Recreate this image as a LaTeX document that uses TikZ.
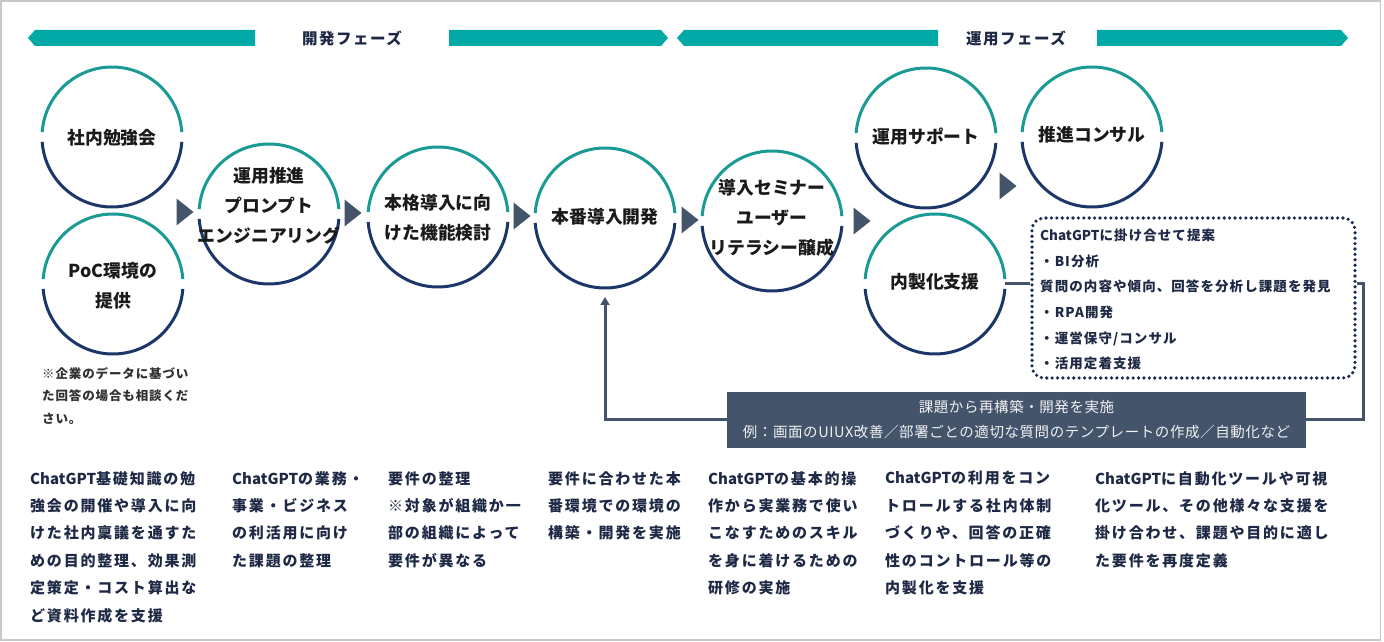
\documentclass[tikz,border=0pt]{standalone}
\usepackage{fontspec}
\setmainfont{Noto Sans CJK JP}
\usetikzlibrary{arrows.meta}
\definecolor{tealbar}{HTML}{00A9A5}
\definecolor{tealarc}{HTML}{1A9A94}
\definecolor{navyarc}{HTML}{1B3668}
\definecolor{slate}{HTML}{44546A}
\definecolor{txtnavy}{HTML}{1E2A45}
\definecolor{txtdark}{HTML}{1A1A1A}
\definecolor{framegray}{HTML}{C8C8C8}
\newcommand\myring[1]{%
  \draw[tealarc,line width=3pt] (#1.4) arc[start angle=4,end angle=176,radius=70pt];
  \draw[navyarc,line width=3pt] (#1.184) arc[start angle=184,end angle=356,radius=70pt];}
\newcommand\lat[1]{{\addfontfeature{LetterSpace=0}#1}}
\begin{document}
\begin{tikzpicture}[x=1pt,y=1pt,
  ring/.style={circle,minimum size=140pt,inner sep=0pt,outer sep=0pt},
  ctext/.style={align=center,inner sep=0pt,text=txtdark,
    font=\bfseries\fontsize{17.8}{30}\selectfont},
  btext/.style={align=left,anchor=north west,inner sep=0pt,text=txtnavy,
    font=\bfseries\fontsize{15}{27.4}\selectfont\addfontfeature{LetterSpace=12}},
  phase/.style={inner sep=0pt,text=txtnavy,
    font=\bfseries\fontsize{15.5}{18}\selectfont\addfontfeature{LetterSpace=10}},
  note/.style={align=left,anchor=north west,inner sep=0pt,text=txtdark!90,
    font=\bfseries\fontsize{12.5}{22.5}\selectfont\addfontfeature{LetterSpace=7}},
  dbox/.style={draw=navyarc!80!black,line width=3.6pt,dash pattern=on 0pt off 5.4pt,
    line cap=round,rounded corners=12pt,inner sep=0pt},
  dtext/.style={align=left,anchor=north west,inner sep=0pt,text=txtnavy,
    font=\bfseries\fontsize{13.5}{25.6}\selectfont\addfontfeature{LetterSpace=8}},
  fbox/.style={fill=slate,text=white!92!slate,align=center,inner sep=0pt,
    font=\fontsize{14.5}{25}\selectfont\addfontfeature{LetterSpace=4}},
  link/.style={draw=slate,line width=3pt},
  tri/.style={fill=slate}
]
\useasboundingbox (0,0) rectangle (1384,642);
\fill[white] (0,0) rectangle (1384,642);
\draw[framegray,line width=1.5pt] (1,2) rectangle (1380.5,641);

% phase banners
\fill[tealbar] (28,604) -- (35,612) -- (255,612) -- (255,596) -- (35,596) -- cycle;
\fill[tealbar] (449,612) -- (661,612) -- (668,604) -- (661,596) -- (449,596) -- cycle;
\fill[tealbar] (677,604) -- (684,612) -- (938,612) -- (938,596) -- (684,596) -- cycle;
\fill[tealbar] (1097,612) -- (1341,612) -- (1348,604) -- (1341,596) -- (1097,596) -- cycle;
\node[phase] (ph1) at (352,604) {開発フェーズ};
\node[phase] (ph2) at (1016,604) {運用フェーズ};

% circles
\node[ring] (c1) at (112,505) {};
\node[ring] (c2) at (113,358) {};
\node[ring] (c3) at (269,428) {};
\node[ring] (c4) at (438,425) {};
\node[ring] (c5) at (605,424) {};
\node[ring] (c6) at (772,421) {};
\node[ring] (c7) at (926,504) {};
\node[ring] (c8) at (935,358) {};
\node[ring] (c9) at (1092,505) {};
\myring{c1}\myring{c2}\myring{c3}\myring{c4}\myring{c5}
\myring{c6}\myring{c7}\myring{c8}\myring{c9}

\node[ctext] (t1) at (112,504) {社内勉強会};
\node[ctext] (t2) at (113,356) {PoC環境の\\提供};
\node[ctext] (t3) at (269,436) {運用推進\\プロンプト\\エンジニアリング};
\node[ctext] (t4) at (438,424) {本格導入に向\\けた機能検討};
\node[ctext] (t5) at (605,425) {本番導入開発};
\node[ctext] (t6) at (772,424) {導入セミナー\\ユーザー\\リテラシー醸成};
\node[ctext] (t7) at (926,505) {運用サポート};
\node[ctext] (t8) at (935,360) {内製化支援};
\node[ctext] (t9) at (1092,507) {推進コンサル};

% step triangles
\foreach \x/\y in {185/430,353/429,522/426,690/422,862/421,1008/456}
  \fill[tri] (\x-8.5,\y+13.5) -- (\x+8.5,\y) -- (\x-8.5,\y-13.5) -- cycle;

% note under PoC
\node[note] (n1) at (42,275) {※企業のデータに基づい\\た回答の場合も相談くだ\\さい。};

% dotted box
\node[dbox,minimum width=323pt,minimum height=160pt] (db) at (1193.5,344) {};
\node[dtext] (dt) at (1040,413) {\lat{ChatGPT}に掛け合せて提案\\・BI分析\\質問の内容や傾向、回答を分析し課題を発見\\・RPA開発\\・運営保守/コンサル\\・活用定着支援};

% connectors
\coordinate (turn) at (1363,222);
\draw[link] (c8.east) -- (c8.east -| db.west);
\draw[link,-{Triangle[width=9pt,length=8pt]},shorten >=9pt]
  (db.east |- c8.east) -| (turn) -| (c5.south);

% feedback box
\node[fbox,minimum width=579pt,minimum height=56pt] (fb) at (1016.5,222)
  {課題から再構築・開発を実施\\例：画面のUIUX改善／部署ごとの適切な質問のテンプレートの作成／自動化など};

% bottom descriptions
\node[btext] (d1) at (30,171) {\lat{ChatGPT}基礎知識の勉\\強会の開催や導入に向\\けた社内稟議を通すた\\めの目的整理、効果測\\定策定・コスト算出な\\ど資料作成を支援};
\node[btext] (d2) at (232,171) {\lat{ChatGPT}の業務・\\事業・ビジネス\\の利活用に向け\\た課題の整理};
\node[btext] (d3) at (388,171) {要件の整理\\※対象が組織か一\\部の組織によって\\要件が異なる};
\node[btext] (d4) at (548,171) {要件に合わせた本\\番環境での環境の\\構築・開発を実施};
\node[btext] (d5) at (708,171) {\lat{ChatGPT}の基本的操\\作から実業務で使い\\こなすためのスキル\\を身に着けるための\\研修の実施};
\node[btext] (d6) at (885,171) {\lat{ChatGPT}の利用をコン\\トロールする社内体制\\づくりや、回答の正確\\性のコントロール等の\\内製化を支援};
\node[btext] (d7) at (1095,171) {\lat{ChatGPT}に自動化ツールや可視\\化ツール、その他様々な支援を\\掛け合わせ、課題や目的に適し\\た要件を再度定義};
\end{tikzpicture}
\end{document}
